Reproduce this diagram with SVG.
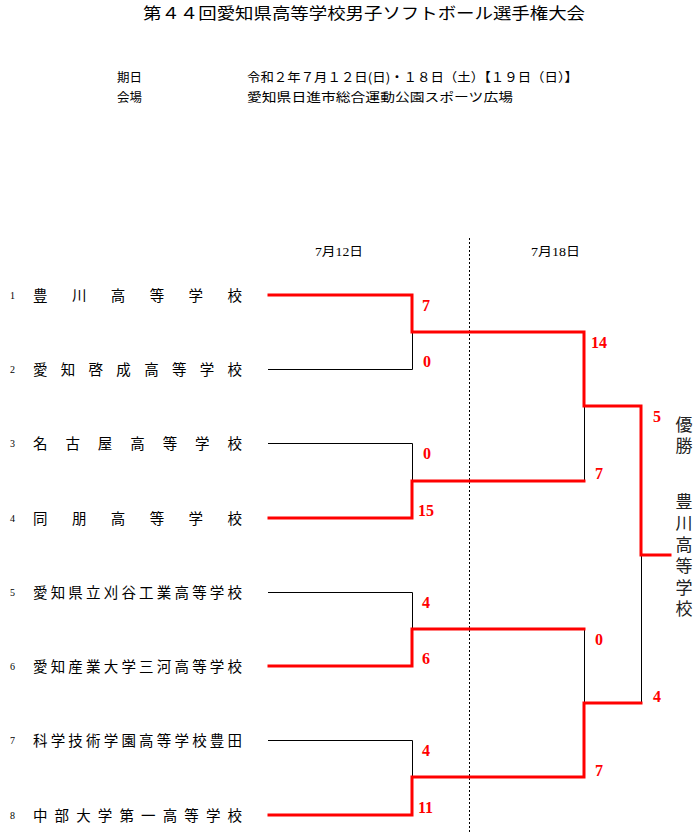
<svg xmlns="http://www.w3.org/2000/svg" width="700" height="834" viewBox="0 0 700 834">
<style>
.jp{font-family:"Noto Sans CJK JP","Liberation Sans",sans-serif;fill:#000}
.title{font-size:16px}
.hdr{font-size:12.5px}
.team{font-size:14.5px}
.num{font-family:"Liberation Serif",serif;font-size:10px;fill:#000}
.date{font-family:"Liberation Serif","Noto Sans CJK JP",serif;font-size:12px;fill:#000}
.score{font-family:"Liberation Serif",serif;font-weight:bold;font-size:16px;fill:#ff0000}
.champ{font-size:17px;fill:#222;writing-mode:vertical-rl;letter-spacing:4.5px}
.win{stroke:#ff0000;stroke-width:3;fill:none;stroke-linecap:square}
.lose{stroke:#000;stroke-width:1;fill:none}
</style>
<rect width="700" height="834" fill="#fff"/>
<g id="header">
<text class="jp title" x="143" y="19" textLength="442" lengthAdjust="spacingAndGlyphs">第４４回愛知県高等学校男子ソフトボール選手権大会</text>
<text class="jp hdr" x="117" y="82">期日</text>
<text class="jp hdr" x="117" y="102">会場</text>
<text class="jp hdr" x="247" y="82" textLength="331" lengthAdjust="spacingAndGlyphs">令和２年７月１２日(日)・１８日（土）【１９日（日）】</text>
<text class="jp hdr" x="247" y="102" textLength="266" lengthAdjust="spacingAndGlyphs">愛知県日進市総合運動公園スポーツ広場</text>
<text class="date" x="315" y="256" textLength="48" lengthAdjust="spacingAndGlyphs">7月12日</text>
<text class="date" x="531" y="256" textLength="49" lengthAdjust="spacingAndGlyphs">7月18日</text>
<line x1="469.5" y1="238" x2="469.5" y2="834" stroke="#000" stroke-width="1" stroke-dasharray="2,2"/>
</g>
<g id="team1"><text class="num" x="10" y="299">1</text><text class="jp team" x="33" y="301" textLength="209" lengthAdjust="spacing">豊川高等学校</text></g>
<g id="team2"><text class="num" x="10" y="373">2</text><text class="jp team" x="33" y="375" textLength="209" lengthAdjust="spacing">愛知啓成高等学校</text></g>
<g id="team3"><text class="num" x="10" y="447">3</text><text class="jp team" x="33" y="449" textLength="209" lengthAdjust="spacing">名古屋高等学校</text></g>
<g id="team4"><text class="num" x="10" y="522">4</text><text class="jp team" x="33" y="524" textLength="209" lengthAdjust="spacing">同朋高等学校</text></g>
<g id="team5"><text class="num" x="10" y="596">5</text><text class="jp team" x="33" y="598" textLength="209" lengthAdjust="spacing">愛知県立刈谷工業高等学校</text></g>
<g id="team6"><text class="num" x="10" y="670">6</text><text class="jp team" x="33" y="672" textLength="209" lengthAdjust="spacing">愛知産業大学三河高等学校</text></g>
<g id="team7"><text class="num" x="10" y="744">7</text><text class="jp team" x="33" y="746" textLength="209" lengthAdjust="spacing">科学技術学園高等学校豊田</text></g>
<g id="team8"><text class="num" x="10" y="819">8</text><text class="jp team" x="33" y="821" textLength="209" lengthAdjust="spacing">中部大学第一高等学校</text></g>
<g id="connectors">
<path class="lose" d="M268,369.5H412.5V332"/>
<path class="lose" d="M268,443.5H412.5V481"/>
<path class="lose" d="M268,592.5H412.5V629"/>
<path class="lose" d="M268,740.5H412.5V777"/>
<path class="lose" d="M584.5,406V481"/>
<path class="lose" d="M584.5,629V703"/>
<path class="lose" d="M641.5,555V703" stroke="#444"/>
<path class="win" d="M269,295H412V332H584V406H641V555H670"/>
<path class="win" d="M269,518H412V481H584"/>
<path class="win" d="M269,666H412V629H584"/>
<path class="win" d="M269,815H412V777H584V703H641"/>
</g>
<g id="scores">
<text class="score" x="422" y="311">7</text>
<text class="score" x="423" y="367">0</text>
<text class="score" x="423" y="459">0</text>
<text class="score" x="418" y="516">15</text>
<text class="score" x="422" y="608">4</text>
<text class="score" x="422" y="664">6</text>
<text class="score" x="422" y="756">4</text>
<text class="score" x="418" y="813">11</text>
<text class="score" x="591" y="348">14</text>
<text class="score" x="595" y="479">7</text>
<text class="score" x="595" y="645">0</text>
<text class="score" x="595" y="776">7</text>
<text class="score" x="653" y="422">5</text>
<text class="score" x="653" y="702">4</text>
</g>
<g id="champion">
<text class="jp champ" x="684" y="416">優勝</text>
<text class="jp champ" x="684" y="493">豊川高等学校</text>
</g>
</svg>
